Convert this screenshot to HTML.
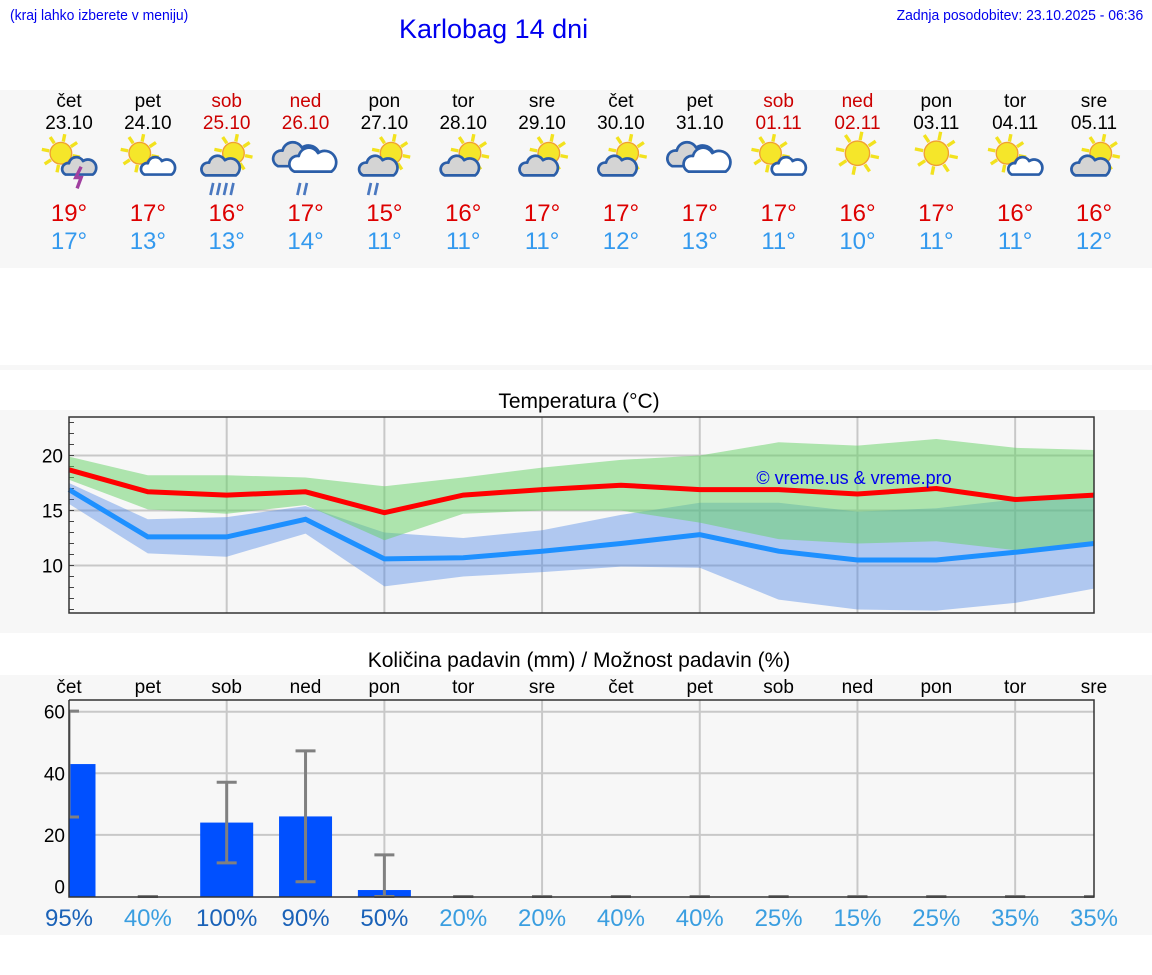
<!DOCTYPE html>
<html><head><meta charset="utf-8">
<style>
body{margin:0;width:1152px;height:975px;background:#fff;font-family:"Liberation Sans","DejaVu Sans",sans-serif;position:relative;overflow:hidden}
.abs{position:absolute}
</style></head><body>
<div class="abs" style="left:10px;top:7px;font-size:15px;color:#0000ee;transform:scaleX(0.93);transform-origin:left">(kraj lahko izberete v meniju)</div>
<div class="abs" style="left:399px;top:14px;font-size:27px;color:#0000ee">Karlobag 14 dni</div>
<div class="abs" style="right:9px;top:7px;font-size:15px;color:#0000ee;transform:scaleX(0.93);transform-origin:right">Zadnja posodobitev: 23.10.2025 - 06:36</div>
<svg id="svg" class="abs" style="left:0;top:0" width="1152" height="975"></svg>
<script>
const days=["čet","pet","sob","ned","pon","tor","sre","čet","pet","sob","ned","pon","tor","sre"];
const dates=["23.10","24.10","25.10","26.10","27.10","28.10","29.10","30.10","31.10","01.11","02.11","03.11","04.11","05.11"];
const weekend=[0,0,1,1,0,0,0,0,0,1,1,0,0,0];
const icons=["sun-storm","sun-cloud","sun-rain","cloud-rain","sun-rain","sun-grey","sun-grey","sun-grey","clouds","sun-cloud","sun","sun","sun-cloud","sun-grey"];
const tMaxDay=[19,17,16,17,15,16,17,17,17,17,16,17,16,16];
const tMinDay=[17,13,13,14,11,11,11,12,13,11,10,11,11,12];
const redLine=[18.7,16.7,16.4,16.7,14.8,16.4,16.9,17.3,16.9,16.9,16.5,17.0,16.0,16.4];
const greenTop=[19.9,18.2,18.2,18.0,17.2,18.0,18.9,19.6,20.0,21.2,20.9,21.5,20.7,20.5];
const greenBot=[17.8,15.1,14.7,15.5,12.3,14.7,15.0,15.0,13.9,12.4,12.0,12.2,11.4,12.1];
const blueLine=[16.9,12.6,12.6,14.2,10.6,10.7,11.3,12.0,12.8,11.3,10.5,10.5,11.2,12.0];
const blueTop=[17.5,14.2,14.4,15.4,13.0,12.5,13.2,14.6,15.7,15.7,14.9,15.2,16.0,16.2];
const blueBot=[15.6,11.1,10.8,12.9,8.1,9.0,9.4,9.9,9.8,6.9,6.0,5.9,6.6,7.9];
const tempTicks=[10,15,20];
const precip=[43,0,24,26,2.1,0,0,0,0,0,0,0,0,0];
const errHi=[60.2,0,37.1,47.3,13.5,0,0,0,0,0,0,0,0,0];
const errLo=[25.8,0,10.9,4.8,0,0,0,0,0,0,0,0,0,0];
const chance=[95,40,100,90,50,20,20,40,40,25,15,25,35,35];
const precipTicks=[0,20,40,60];

const NS="http://www.w3.org/2000/svg";
const svg=document.getElementById('svg');
function mk(t,a,p){const e=document.createElementNS(NS,t);for(const k in a)e.setAttribute(k,a[k]);(p||svg).appendChild(e);return e;}
function txt(x,y,s,a,p){const e=mk('text',Object.assign({x:x,y:y,'text-anchor':'middle'},a),p);e.textContent=s;return e;}
const X0=69,X1=1094,N=days.length;
const xs=i=>X0+i*(X1-X0)/(N-1);
const yT=v=>455.5-(v-20)*11;
const yP=v=>896.5-v*3.08;

let r;
r=mk('rect',{x:0,y:90,width:1152,height:178,fill:'#f7f7f7'});

r=mk('rect',{x:0,y:365,width:1152,height:5,fill:'#f7f7f7'});
r=mk('rect',{x:0,y:410,width:1152,height:223,fill:'#f7f7f7'});

r=mk('rect',{x:0,y:675,width:1152,height:260,fill:'#f7f7f7'});


function sun(g,cx,cy,s){
 for(let k=0;k<8;k++){const a=k*Math.PI/4+0.2;mk('line',{x1:cx+Math.cos(a)*s*1.1,y1:cy+Math.sin(a)*s*1.1,x2:cx+Math.cos(a)*s*1.8,y2:cy+Math.sin(a)*s*1.8,stroke:'#f2e21e','stroke-width':2.5},g);}
 mk('circle',{cx:cx,cy:cy,r:s,fill:'#f5e62a',stroke:'#f0a030','stroke-width':1},g);
}
function cloud(g,cx,cy,s,fill){
 const p=`M${cx-s*1.3},${cy+s*0.6} a${s*0.55},${s*0.55} 0 0 1 ${s*0.3},${-s*1.05} a${s*0.7},${s*0.7} 0 0 1 ${s*1.3},${-s*0.2} a${s*0.6},${s*0.6} 0 0 1 ${s*0.9},${s*1.25} Z`;
 mk('path',{d:p,fill:fill,stroke:'#2b5ea8','stroke-width':2,'stroke-linejoin':'round'},g);
}
function rain(g,cx,cy,n){for(let k=0;k<n;k++)mk('line',{x1:cx+k*5,y1:cy,x2:cx+k*5-2,y2:cy+9,stroke:'#4a78c0','stroke-width':2},g);}
icons.forEach((t,i)=>{
 const bx=xs(i);
 const g=mk('g',{transform:`translate(${bx},160) scale(1.35) translate(${-bx},-160)`});
 
 
 if(t=='sun'){sun(g,bx,155,9);}
 else if(t=='clouds'){cloud(g,bx-6,158,11,'#d4d4d4');cloud(g,bx+6,162,11,'#fff');}
 else if(t=='cloud-rain'){cloud(g,bx-6,158,11,'#d4d4d4');cloud(g,bx+6,162,11,'#fff');rain(g,bx-4,177,2);}
 else if(t=='sun-rain'){sun(g,bx+5,155,8);cloud(g,bx-4,166,9,'#d4d4d4');rain(g,bx-10,177,i==2?4:2);}
 else if(t=='sun-storm'){sun(g,bx-6,155,8);cloud(g,bx+8,166,8,'#d4d4d4');mk('path',{d:`M${bx+9},165 l-4,8 h4 l-3,8`,stroke:'#a040a0','stroke-width':2.5,fill:'none'},g);}
 else if(t=='sun-grey'){sun(g,bx+5,155,8);cloud(g,bx-2,166,9,'#d4d4d4');}
 else {sun(g,bx-6,155,8);cloud(g,bx+8,166,8,'#fff');}
});

days.forEach((d,i)=>{
 const c=weekend[i]?'#cc0000':'#000';
 let e=txt(xs(i),107,d,{'font-size':19,fill:c});
 
 e=txt(xs(i),129,dates[i],{'font-size':19,fill:c});
 
 e=txt(xs(i),221,tMaxDay[i]+'°',{'font-size':24,fill:'#dd0000'});
 
 e=txt(xs(i),249,tMinDay[i]+'°',{'font-size':24,fill:'#3399ee'});
 
});

let t=txt(579,408,'Temperatura (°C)',{'font-size':21,fill:'#000'});

const tg=mk('g',{});

for(let i=2;i<N;i+=2)mk('line',{x1:xs(i),x2:xs(i),y1:417,y2:613,stroke:'#c8c8c8','stroke-width':2},tg);
tempTicks.forEach(v=>{mk('line',{x1:X0,x2:X1,y1:yT(v),y2:yT(v),stroke:'#c8c8c8','stroke-width':2},tg);
 const e=txt(63,yT(v)+7,String(v),{'font-size':19,'text-anchor':'end'},tg);
 });
for(let v=6;v<=23;v++)mk('line',{x1:X0,x2:X0+5,y1:yT(v),y2:yT(v),stroke:'#444','stroke-width':1},tg);
function band(top,bot,fill,name){
 let d='M'+top.map((v,i)=>xs(i)+','+yT(v)).join(' L')+' L'+bot.map((v,i)=>xs(i)+','+yT(v)).reverse().join(' L')+'Z';
 const e=mk('path',{d:d,fill:fill},tg);
}
band(blueTop,blueBot,'rgba(70,130,230,0.4)','min-temp-range');
band(greenTop,greenBot,'rgba(100,210,100,0.5)','max-temp-range');
function line(vals,col,name){const e=mk('polyline',{points:vals.map((v,i)=>xs(i)+','+yT(v)).join(' '),fill:'none',stroke:col,'stroke-width':5},tg);
 }
line(redLine,'#ff0000','max-temp-line');
line(blueLine,'#1e90ff','min-temp-line');
mk('rect',{x:X0,y:417,width:X1-X0,height:196,fill:'none',stroke:'#333','stroke-width':1.5},tg);
t=txt(854,484,'© vreme.us & vreme.pro',{'font-size':18,fill:'#0000ee'},tg);


t=txt(579,667,'Količina padavin (mm) / Možnost padavin (%)',{'font-size':21,fill:'#000'});

const pg=mk('g',{});

days.forEach((d,i)=>{const e=txt(xs(i),693,d,{'font-size':19},pg);});
for(let i=2;i<N;i+=2)mk('line',{x1:xs(i),x2:xs(i),y1:700,y2:897,stroke:'#c8c8c8','stroke-width':2},pg);
precipTicks.forEach(v=>{if(v>0)mk('line',{x1:X0,x2:X1,y1:yP(v),y2:yP(v),stroke:'#c8c8c8','stroke-width':2},pg);
 const e=txt(65,yP(v)+(v==0?-3:7),String(v),{'font-size':19,'text-anchor':'end'},pg);
 });
const clip=mk('clipPath',{id:'pc'},pg);mk('rect',{x:X0,y:690,width:X1-X0,height:210},clip);
const bars=mk('g',{'clip-path':'url(#pc)'},pg);
precip.forEach((v,i)=>{
 if(v>0){const b=mk('rect',{x:xs(i)-26.5,y:yP(v),width:53,height:yP(0)-yP(v),fill:'#0050ff'},bars);
  }
 const eg=mk('g',{},bars);
 
 mk('line',{x1:xs(i),x2:xs(i),y1:yP(errHi[i]),y2:yP(errLo[i]),stroke:'#808080','stroke-width':3},eg);
 mk('line',{x1:xs(i)-10,x2:xs(i)+10,y1:yP(errHi[i]),y2:yP(errHi[i]),stroke:'#808080','stroke-width':3},eg);
 mk('line',{x1:xs(i)-10,x2:xs(i)+10,y1:yP(errLo[i]),y2:yP(errLo[i]),stroke:'#808080','stroke-width':3},eg);
});
mk('polyline',{points:`${X0},700 ${X0},897 ${X1},897 ${X1},700 ${X0},700`,fill:'none',stroke:'#333','stroke-width':1.5},pg);
chance.forEach((v,i)=>{const e=txt(xs(i),926,v+'%',{'font-size':24,fill:v>=50?'#1a62b8':'#3a9ee0'},pg);
 });
</script>
</body></html>
